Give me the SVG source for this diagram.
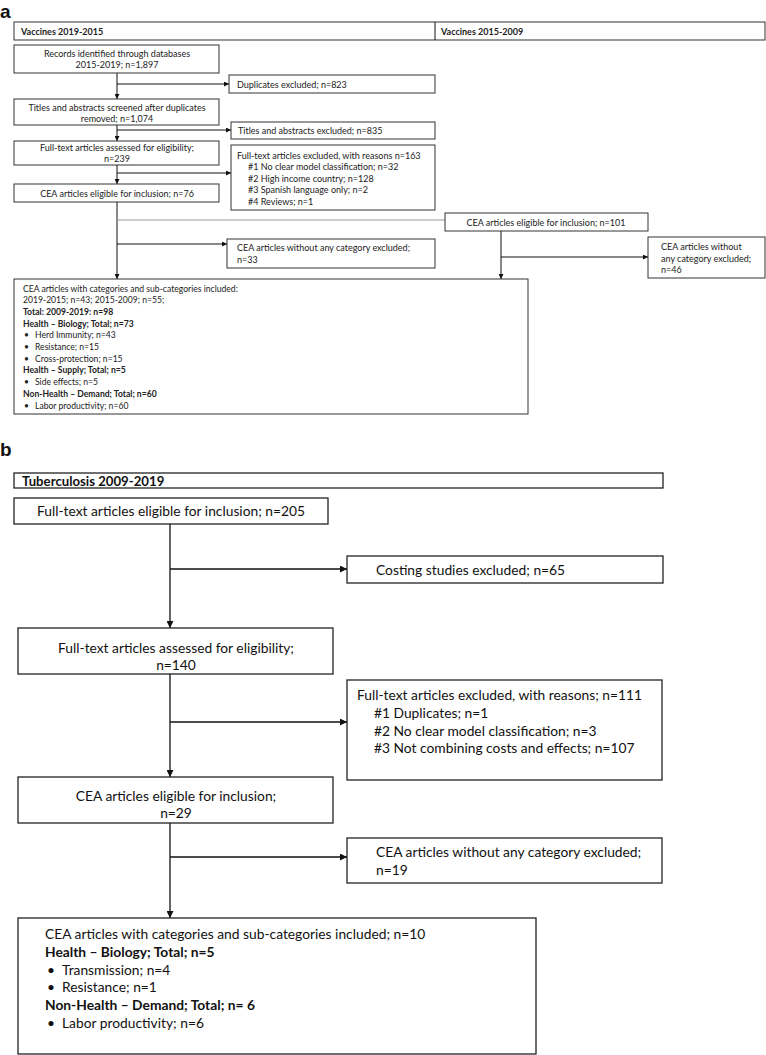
<svg xmlns="http://www.w3.org/2000/svg" width="766" height="1055" viewBox="0 0 766 1055">
<style>
.bg{fill:#fff}
.box{fill:#fff;stroke:#333;stroke-width:1}
.boxb{fill:#fff;stroke:#222;stroke-width:1.3}
.ta{font-family:Lato,"Liberation Sans",sans-serif;font-size:9px;fill:#222}
.tc{font-family:Lato,"Liberation Sans",sans-serif;font-size:8.6px;fill:#222}
.tb{font-family:Lato,"Liberation Sans",sans-serif;font-size:13.8px;fill:#111}
.bold{font-weight:bold}
.mid{text-anchor:middle}
.lbl{font-family:"Liberation Sans",Arial,sans-serif;font-size:19px;font-weight:bold;fill:#111}
.ln{stroke:#111;stroke-width:1;fill:none}
.lnb{stroke:#111;stroke-width:1.3;fill:none}
.grey{stroke:#999;stroke-width:1;fill:none}
</style>
<defs>
<marker id="ah" viewBox="0 0 10 10" refX="10" refY="5" markerWidth="5" markerHeight="5" markerUnits="userSpaceOnUse" orient="auto">
<path d="M0,0 L10,5 L0,10 z" fill="#111"/>
</marker>
<marker id="ahb" viewBox="0 0 10 10" refX="10" refY="5" markerWidth="7" markerHeight="7" markerUnits="userSpaceOnUse" orient="auto">
<path d="M0,0 L10,5 L0,10 z" fill="#111"/>
</marker>
</defs>
<rect class="bg" x="0" y="0" width="766" height="1055"/>

<text class="lbl" x="0" y="18">a</text>
<g id="header-a">
<rect class="box" x="14" y="22" width="751" height="18"/>
<line class="ln" x1="435" y1="22" x2="435" y2="40"/>
<text class="ta bold" x="21" y="35">Vaccines 2019-2015</text>
<text class="ta bold" x="441" y="35">Vaccines 2015-2009</text>
</g>

<g id="connectors-a">
<line class="ln" x1="117" y1="73" x2="117" y2="99" marker-end="url(#ah)"/>
<line class="ln" x1="117" y1="84" x2="229" y2="84" marker-end="url(#ah)"/>
<line class="ln" x1="117" y1="125" x2="117" y2="141" marker-end="url(#ah)"/>
<line class="ln" x1="117" y1="130" x2="231" y2="130" marker-end="url(#ah)"/>
<line class="ln" x1="117" y1="165" x2="117" y2="184" marker-end="url(#ah)"/>
<line class="ln" x1="117" y1="173" x2="231" y2="173" marker-end="url(#ah)"/>
<line class="ln" x1="117" y1="202" x2="117" y2="279" marker-end="url(#ah)"/>
<line class="grey" x1="117" y1="220" x2="445" y2="220"/>
<line class="ln" x1="117" y1="244" x2="227" y2="244" marker-end="url(#ah)"/>
<line class="ln" x1="501" y1="231" x2="501" y2="279" marker-end="url(#ah)"/>
<line class="ln" x1="501" y1="257" x2="648" y2="257" marker-end="url(#ah)"/>
</g>

<g id="a-records">
<rect class="box" x="14" y="45" width="205" height="28"/>
<text class="ta mid" x="117" y="57">Records identified through databases</text>
<text class="ta mid" x="117" y="68">2015-2019; n=1,897</text>
</g>
<g id="a-duplicates">
<rect class="box" x="229" y="75" width="206" height="18"/>
<text class="ta" x="237" y="87.5">Duplicates excluded; n=823</text>
</g>
<g id="a-screened">
<rect class="box" x="14" y="99" width="205" height="26"/>
<text class="ta mid" x="117" y="111">Titles and abstracts screened after duplicates</text>
<text class="ta mid" x="117" y="121.5">removed; n=1,074</text>
</g>
<g id="a-titles-excluded">
<rect class="box" x="231" y="122" width="204" height="17"/>
<text class="ta" x="238" y="133.5">Titles and abstracts excluded; n=835</text>
</g>
<g id="a-assessed">
<rect class="box" x="14" y="141" width="205" height="24"/>
<text class="ta mid" x="117" y="150.5">Full-text articles assessed for eligibility;</text>
<text class="ta mid" x="117" y="162">n=239</text>
</g>
<g id="a-fulltext-excluded">
<rect class="box" x="231" y="145" width="204" height="65"/>
<text class="ta" x="237" y="158.5">Full-text articles excluded, with reasons n=163</text>
<text class="ta" x="248" y="170">#1 No clear model classification; n=32</text>
<text class="ta" x="248" y="181.5">#2 High income country; n=128</text>
<text class="ta" x="248" y="193">#3 Spanish language only; n=2</text>
<text class="ta" x="248" y="204.5">#4 Reviews; n=1</text>
</g>
<g id="a-eligible-76">
<rect class="box" x="14" y="184" width="205" height="18"/>
<text class="ta mid" x="117" y="196.5">CEA articles eligible for inclusion; n=76</text>
</g>
<g id="a-eligible-101">
<rect class="box" x="445" y="213" width="203" height="18"/>
<text class="ta mid" x="546" y="225.5">CEA articles eligible for inclusion; n=101</text>
</g>
<g id="a-nocat-33">
<rect class="box" x="227" y="239" width="208" height="29"/>
<text class="ta" x="237" y="251">CEA articles without any category excluded;</text>
<text class="ta" x="237" y="263">n=33</text>
</g>
<g id="a-nocat-46">
<rect class="box" x="648" y="237" width="117" height="41"/>
<text class="ta" x="661" y="250">CEA articles without</text>
<text class="ta" x="661" y="261.5">any category excluded;</text>
<text class="ta" x="661" y="273">n=46</text>
</g>
<g id="a-included">
<rect class="box" x="14" y="279" width="514" height="135"/>
<text class="tc" x="23" y="291.5">CEA articles with categories and sub-categories included:</text>
<text class="tc" x="23" y="303.2">2019-2015; n=43; 2015-2009; n=55;</text>
<text class="tc bold" x="23" y="314.9">Total: 2009-2019: n=98</text>
<text class="tc bold" x="23" y="326.6">Health – Biology; Total; n=73</text>
<text class="tc" x="24" y="338.3">•</text><text class="tc" x="35" y="338.3">Herd Immunity; n=43</text>
<text class="tc" x="24" y="350">•</text><text class="tc" x="35" y="350">Resistance; n=15</text>
<text class="tc" x="24" y="361.7">•</text><text class="tc" x="35" y="361.7">Cross-protection; n=15</text>
<text class="tc bold" x="23" y="373.4">Health – Supply; Total; n=5</text>
<text class="tc" x="24" y="385.1">•</text><text class="tc" x="35" y="385.1">Side effects; n=5</text>
<text class="tc bold" x="23" y="396.8">Non-Health – Demand; Total; n=60</text>
<text class="tc" x="24" y="408.5">•</text><text class="tc" x="35" y="408.5">Labor productivity; n=60</text>
</g>

<text class="lbl" x="0" y="456">b</text>
<g id="header-b">
<rect class="boxb" x="14" y="473" width="649" height="15"/>
<text class="tb bold" x="22" y="486" style="font-size:13.2px">Tuberculosis 2009-2019</text>
</g>

<g id="connectors-b">
<line class="lnb" x1="170" y1="524" x2="170" y2="628" marker-end="url(#ahb)"/>
<line class="lnb" x1="170" y1="569" x2="347" y2="569" marker-end="url(#ahb)"/>
<line class="lnb" x1="170" y1="674" x2="170" y2="777" marker-end="url(#ahb)"/>
<line class="lnb" x1="170" y1="722" x2="347" y2="722" marker-end="url(#ahb)"/>
<line class="lnb" x1="170" y1="823" x2="170" y2="918" marker-end="url(#ahb)"/>
<line class="lnb" x1="170" y1="857" x2="347" y2="857" marker-end="url(#ahb)"/>
</g>

<g id="b-eligible-205">
<rect class="boxb" x="14" y="498" width="314" height="26"/>
<text class="tb mid" x="171" y="516">Full-text articles eligible for inclusion; n=205</text>
</g>
<g id="b-costing">
<rect class="boxb" x="347" y="556" width="316" height="27"/>
<text class="tb" x="376" y="574.5">Costing studies excluded; n=65</text>
</g>
<g id="b-assessed">
<rect class="boxb" x="18" y="628" width="315" height="46"/>
<text class="tb mid" x="176" y="652.5">Full-text articles assessed for eligibility;</text>
<text class="tb mid" x="176" y="670">n=140</text>
</g>
<g id="b-fulltext-excluded">
<rect class="boxb" x="347" y="680" width="315" height="100"/>
<text class="tb" x="357" y="699.5">Full-text articles excluded, with reasons; n=111</text>
<text class="tb" x="374" y="717.5">#1 Duplicates; n=1</text>
<text class="tb" x="374" y="735.5">#2 No clear model classification; n=3</text>
<text class="tb" x="374" y="753">#3 Not combining costs and effects; n=107</text>
</g>
<g id="b-eligible-29">
<rect class="boxb" x="18" y="777" width="315" height="46"/>
<text class="tb mid" x="176" y="800.5">CEA articles eligible for inclusion;</text>
<text class="tb mid" x="176" y="818">n=29</text>
</g>
<g id="b-nocat-19">
<rect class="boxb" x="347" y="838" width="315" height="45"/>
<text class="tb" x="376" y="856.5">CEA articles without any category excluded;</text>
<text class="tb" x="376" y="874.5">n=19</text>
</g>
<g id="b-included">
<rect class="boxb" x="18" y="918" width="518" height="136"/>
<text class="tb" x="45" y="939">CEA articles with categories and sub-categories included; n=10</text>
<text class="tb bold" x="45" y="956.5">Health – Biology; Total; n=5</text>
<text class="tb" x="47" y="974.5">•</text><text class="tb" x="62" y="974.5">Transmission; n=4</text>
<text class="tb" x="47" y="992">•</text><text class="tb" x="62" y="992">Resistance; n=1</text>
<text class="tb bold" x="45" y="1010">Non-Health – Demand; Total; n= 6</text>
<text class="tb" x="47" y="1028">•</text><text class="tb" x="62" y="1028">Labor productivity; n=6</text>
</g>
</svg>
